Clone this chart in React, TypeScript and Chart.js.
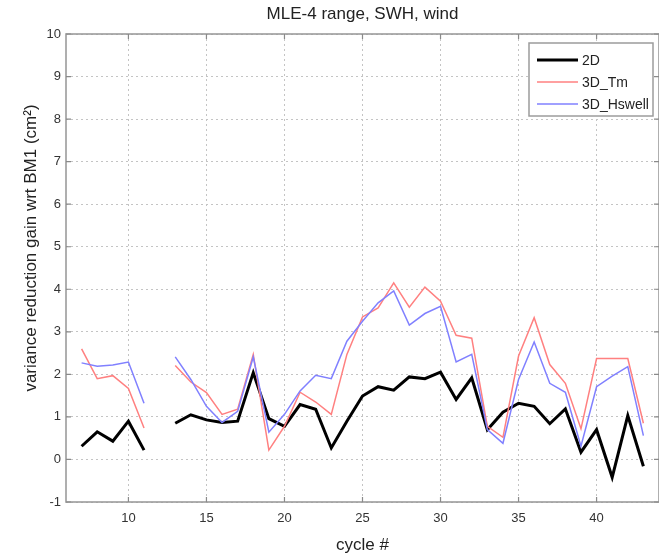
import React, { useEffect, useRef } from 'react';
import { Chart, registerables } from 'chart.js';

Chart.register(...registerables);

const cycles = [7, 8, 9, 10, 11, 12, 13, 14, 15, 16, 17, 18, 19, 20, 21, 22, 23, 24, 25, 26, 27, 28, 29, 30, 31, 32, 33, 34, 35, 36, 37, 38, 39, 40, 41, 42, 43];
const series2D = [0.31, 0.65, 0.43, 0.90, 0.22, null, 0.85, 1.05, 0.93, 0.87, 0.90, 2.04, 0.96, 0.78, 1.29, 1.18, 0.27, 0.90, 1.49, 1.71, 1.63, 1.94, 1.90, 2.05, 1.41, 1.92, 0.70, 1.11, 1.32, 1.25, 0.84, 1.19, 0.17, 0.70, -0.42, 1.03, -0.16];
const series3DTm = [2.60, 1.90, 1.97, 1.67, 0.74, null, 2.21, 1.82, 1.57, 1.06, 1.18, 2.47, 0.22, 0.78, 1.58, 1.35, 1.06, 2.47, 3.35, 3.56, 4.15, 3.58, 4.05, 3.72, 2.92, 2.85, 0.78, 0.52, 2.43, 3.33, 2.23, 1.79, 0.72, 2.37, 2.37, 2.37, 0.85];
const series3DHswell = [2.27, 2.19, 2.22, 2.29, 1.32, null, 2.41, 1.88, 1.25, 0.87, 1.13, 2.41, 0.64, 1.06, 1.61, 1.98, 1.90, 2.78, 3.25, 3.68, 3.96, 3.16, 3.43, 3.60, 2.29, 2.47, 0.70, 0.38, 1.88, 2.76, 1.79, 1.58, 0.31, 1.71, 1.96, 2.18, 0.56];
const seriesLabels = ['2D', '3D_Tm', '3D_Hswell'];
const xRange = [6, 44];
const yRange = [-1, 10];
const xTickStep = 5;
const yTickStep = 1;

const titleText = 'MLE-4 range, SWH, wind';
const xLabelText = 'cycle #';
const yLabelText = 'variance reduction gain wrt BM1 (cm\u00B2)';

const FONT = '"Liberation Sans", Arial, Helvetica, sans-serif';
const AXIS_COLOR = '#9c9c9c';

const toPoints = (vals: (number | null)[]) => cycles.map((c, i) => ({ x: c, y: vals[i] }));

const decorPlugin = {
  id: 'decor',
  afterDraw(chart: any) {
    const { ctx, chartArea, scales } = chart;
    const { left, right, top, bottom } = chartArea;
    ctx.save();
    // box
    ctx.strokeStyle = AXIS_COLOR;
    ctx.lineWidth = 1.6;
    ctx.setLineDash([]);
    ctx.strokeRect(left, top, right - left, bottom - top);
    // inward ticks
    ctx.strokeStyle = '#8a8a8a';
    ctx.lineWidth = 1.2;
    const tl = 5;
    scales.x.ticks.forEach((t: any) => {
      const px = scales.x.getPixelForValue(t.value);
      ctx.beginPath();
      ctx.moveTo(px, bottom); ctx.lineTo(px, bottom - tl);
      ctx.moveTo(px, top); ctx.lineTo(px, top + tl);
      ctx.stroke();
    });
    scales.y.ticks.forEach((t: any) => {
      const py = scales.y.getPixelForValue(t.value);
      ctx.beginPath();
      ctx.moveTo(left, py); ctx.lineTo(left + tl, py);
      ctx.moveTo(right, py); ctx.lineTo(right - tl, py);
      ctx.stroke();
    });
    // title
    ctx.fillStyle = '#222';
    ctx.textAlign = 'center';
    ctx.textBaseline = 'middle';
    ctx.font = `17px ${FONT}`;
    ctx.fillText(titleText, (left + right) / 2, 14);
    // x label
    ctx.fillText(xLabelText, (left + right) / 2, 545);
    // y label
    ctx.save();
    ctx.translate(31, 248);
    ctx.rotate(-Math.PI / 2);
    ctx.fillText(yLabelText, 0, 0);
    ctx.restore();
    // legend
    const lx = right - 130, ly = top + 9, lw = 124, lh = 73;
    ctx.fillStyle = '#fff';
    ctx.fillRect(lx, ly, lw, lh);
    ctx.strokeStyle = AXIS_COLOR;
    ctx.lineWidth = 1.5;
    ctx.strokeRect(lx, ly, lw, lh);
    ctx.font = `14px ${FONT}`;
    ctx.textAlign = 'left';
    chart.data.datasets.forEach((ds: any, i: number) => {
      const y = ly + 17 + i * 22;
      ctx.strokeStyle = ds.borderColor;
      ctx.lineWidth = ds.borderWidth;
      ctx.beginPath();
      ctx.moveTo(lx + 8, y);
      ctx.lineTo(lx + 49, y);
      ctx.stroke();
      ctx.fillStyle = '#222';
      ctx.fillText(ds.label, lx + 53, y + 1);
    });
    ctx.restore();
  },
};

export default function App() {
  const ref = useRef<HTMLCanvasElement>(null);
  useEffect(() => {
    const chart = new Chart(ref.current as HTMLCanvasElement, {
      type: 'line',
      data: {
        datasets: [
          { label: seriesLabels[0], data: toPoints(series2D), borderColor: '#000000', borderWidth: 3, order: 3 },
          { label: seriesLabels[1], data: toPoints(series3DTm), borderColor: '#ff8080', borderWidth: 1.5, order: 2 },
          { label: seriesLabels[2], data: toPoints(series3DHswell), borderColor: '#8080ff', borderWidth: 1.5, order: 1 },
        ] as any,
      },
      options: {
        animation: false,
        responsive: false,
        devicePixelRatio: 1,
        spanGaps: false,
        elements: { point: { radius: 0 }, line: { tension: 0 } },
        layout: { padding: { top: 34, left: 0, right: 0, bottom: 0 } },
        plugins: { legend: { display: false }, title: { display: false }, tooltip: { enabled: false } },
        scales: {
          x: {
            type: 'linear',
            min: xRange[0],
            max: xRange[1],
            ticks: { stepSize: xTickStep, font: { family: FONT, size: 13 }, color: '#333', padding: 9, maxRotation: 0 },
            grid: { color: '#c4c4c4', drawTicks: false, lineWidth: 1 },
            border: { display: false, dash: [2, 3] },
            afterBuildTicks: (scale: any) => {
              scale.ticks = scale.ticks.filter((t: any) => t.value % xTickStep === 0);
            },
            afterFit: (scale: any) => { scale.height = 53; },
          },
          y: {
            min: yRange[0],
            max: yRange[1],
            ticks: { stepSize: yTickStep, font: { family: FONT, size: 13 }, color: '#333', padding: 5 },
            grid: { color: '#c4c4c4', drawTicks: false, lineWidth: 1 },
            border: { display: false, dash: [2, 3] },
            afterFit: (scale: any) => { scale.width = 66; },
          },
        },
      } as any,
      plugins: [decorPlugin],
    });
    return () => chart.destroy();
  }, []);
  return (
    <div style={{ position: 'absolute', left: 0, top: 0, width: 659, height: 555, background: '#fff' }}>
      <canvas ref={ref} width={659} height={555} />
    </div>
  );
}
